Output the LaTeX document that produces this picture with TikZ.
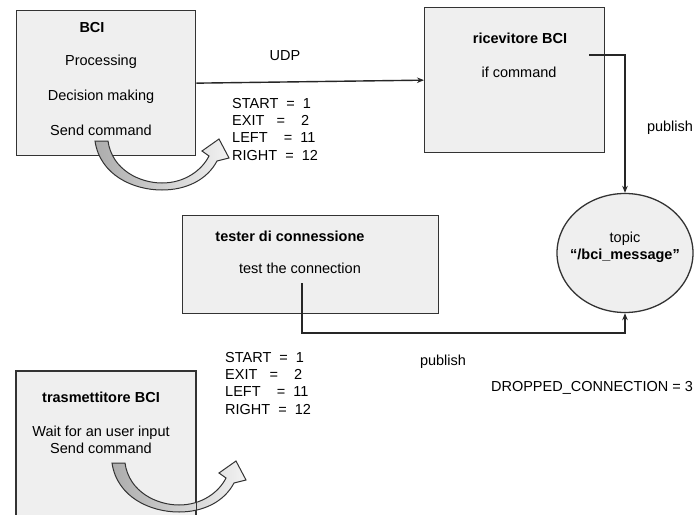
\documentclass[tikz,border=0pt]{standalone}
\usepackage{fontspec}
\setmainfont{Liberation Sans}
\usetikzlibrary{arrows.meta,shapes.geometric}
\definecolor{boxfill}{HTML}{EFEFEF}
\definecolor{boxline}{HTML}{333333}
\tikzset{
  box/.style={draw=boxline, fill=boxfill, line width=1.3pt, rectangle, anchor=north west, inner sep=0pt},
  boxedge/.style={draw=boxline, line width=1.3pt},
  link/.style={draw=black!85, line width=1.4pt, -{Stealth[length=7pt,width=5.5pt]}},
  lbl/.style={inner sep=0pt},
  title/.style={lbl, font=\bfseries\fontsize{14.5}{17.3}\selectfont},
  bigarrow/.style={draw=black!80, line width=1pt, left color=gray!65, right color=gray!10},
}
\begin{document}
\begin{tikzpicture}[x=1pt, y=-1pt, font=\fontsize{14.5}{17.3}\selectfont]
  \useasboundingbox[fill=white] (0,0) rectangle (696,514);
  \clip (0,0) rectangle (696,514);

  % boxes
  \node[box, minimum width=179pt, minimum height=145pt] (bci) at (16,10) {};
  \node[box, minimum width=180pt, minimum height=145pt] (ricevitore) at (424,7) {};
  \node[box, minimum width=256pt, minimum height=98pt] (tester) at (182,215) {};
  \node[box, minimum width=179pt, minimum height=170pt] (trasmettitore) at (16,371) {};
  \node[ellipse, draw=boxline, fill=boxfill, line width=1.3pt, minimum width=136pt, minimum height=119pt] (topic) at (625,253) {};

  % curved arrows
  \foreach \dx/\dy in {0/0, 17/322} {
    \begin{scope}[shift={(\dx,\dy)}]
      \draw[bigarrow] (95,141) -- (108,141) .. controls (112,170) and (140,183) .. (162,183)
        .. controls (185,183) and (202,170) .. (209,156) -- (202,151) -- (219,139) -- (229,158)
        -- (217,161) .. controls (207,180) and (186,190) .. (162,190)
        .. controls (133,190) and (100,175) .. (95,141) -- cycle;
    \end{scope}
  }
  \draw[boxedge] (trasmettitore.south west) rectangle (trasmettitore.north east);

  % texts
  \node[title] (bci title) at (92,28) {BCI};
  \node[lbl] (bci a) at (101,62) {Processing};
  \node[lbl] (bci b) at (101,97) {Decision making};
  \node[lbl] (bci c) at (101,130) {Send command};
  \node[title] (ric title) at (520,38) {ricevitore BCI};
  \node[lbl] (ric a) at (519,72) {if command};
  \node[title] (test title) at (290,236) {tester di connessione};
  \node[lbl] (test a) at (300,268) {test the connection};
  \node[title] (tras title) at (101,397) {trasmettitore BCI};
  \node[lbl, align=center] (tras a) at (101,440) {Wait for an user input\\Send command};
  \node[lbl] (topic a) at (625,239) {topic};
  \node[title] (topic b) at (625,256) {“/bci\_message”};

  \node[lbl] (udp) at (285,56) {UDP};
  \node[lbl] (pub a) at (670,128) {publish};
  \node[lbl] (pub b) at (443,362) {publish};
  \node[lbl] (dropped) at (592,388) {DROPPED\_CONNECTION = 3};

  \node[lbl, anchor=north west, align=left] (codes a) at (232,98)
    {START\ \ =\ \ 1\\EXIT\ \ \ =\ \ \ \ 2\\LEFT\ \ \ \ =\ \ 11\\RIGHT\ \ =\ \ 12};
  \node[lbl, anchor=north west, align=left] (codes b) at (225,352)
    {START\ \ =\ \ 1\\EXIT\ \ \ =\ \ \ \ 2\\LEFT\ \ \ \ =\ \ 11\\RIGHT\ \ =\ \ 12};

  % connectors
  \coordinate (ric out) at (589,55);
  \coordinate (test out) at (302,283);
  \coordinate (test bend) at (302,333);
  \draw[link] (bci.east) -- (ricevitore.west);
  \draw[link] (ric out) -| (topic.north);
  \draw[link] (test out) -- (test bend) -| (topic.south);
\end{tikzpicture}
\end{document}
